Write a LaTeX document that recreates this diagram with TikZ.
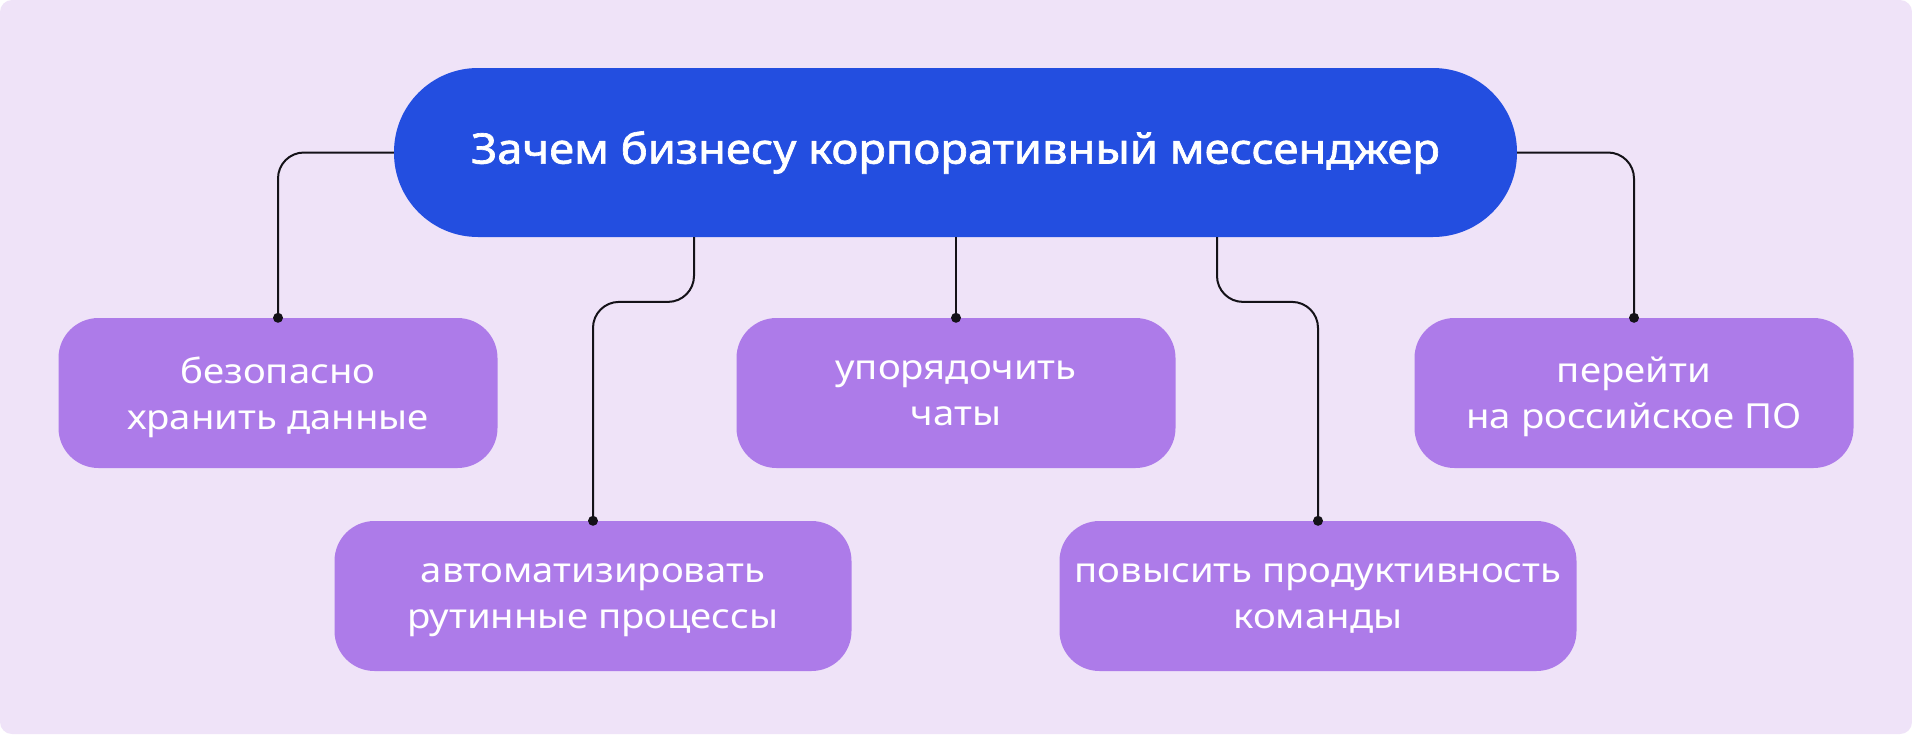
\documentclass[tikz,border=0pt]{standalone}
\usepackage{fontspec}
\setmainfont{Noto Sans}[FakeStretch=1.11]
\newfontfamily\titrefont{Noto Sans}[FakeStretch=1.08, FakeBold=1.6]

\definecolor{fondlav}{HTML}{EFE3F8}
\definecolor{bleutitre}{HTML}{234EE0}
\definecolor{boxviolet}{HTML}{AD7BE9}
\definecolor{lienfonce}{HTML}{141218}

\begin{document}
\begin{tikzpicture}[x=1pt, y=-1pt]
\tikzset{titre/.style={fill=bleutitre, text=white, rounded corners=84pt,
    minimum width=1123pt, minimum height=169pt, inner sep=0pt,
    font=\titrefont\fontsize{42}{50}\selectfont},
  but/.style={fill=boxviolet, text=white, rounded corners=40pt, align=center,
    minimum height=150pt, inner sep=0pt, text depth=-5pt,
    font=\fontsize{34.5}{46}\selectfont},
  lien/.style={draw=lienfonce, line width=2pt, rounded corners=26pt},
  point/.style={circle, fill=lienfonce, inner sep=0pt, minimum size=10pt}}
\useasboundingbox (0,0) rectangle (1912,734);
\fill[white] (0,0) rectangle (1912,734);
\fill[fondlav, rounded corners=12pt] (0,0) rectangle (1912,734);
\node[titre] (Q) at (955.5,152.5) {Зачем бизнесу корпоративный мессенджер};
\node[but, minimum width=439pt] (B1) at (278,393) {безопасно\\хранить данные};
\node[but, minimum width=517pt] (B2) at (593,596) {автоматизировать\\рутинные процессы};
\node[but, minimum width=439pt] (B3) at (956,393) {упорядочить\\чаты};
\node[but, minimum width=517pt] (B4) at (1318,596) {повысить продуктивность\\команды};
\node[but, minimum width=439pt] (B5) at (1634,393) {перейти\\на российское ПО};
\draw[lien] (Q.west) -| (B1.north) node[point] {};
\draw[lien] ([xshift=-261.5pt]Q.south) -- ++(0,64.7) -| (B2.north) node[point] {};
\draw[lien] (B3.north |- Q.south) -- (B3.north) node[point] {};
\draw[lien] ([xshift=261.5pt]Q.south) -- ++(0,64.7) -| (B4.north) node[point] {};
\draw[lien] (Q.east) -| (B5.north) node[point] {};
\end{tikzpicture}
\end{document}
